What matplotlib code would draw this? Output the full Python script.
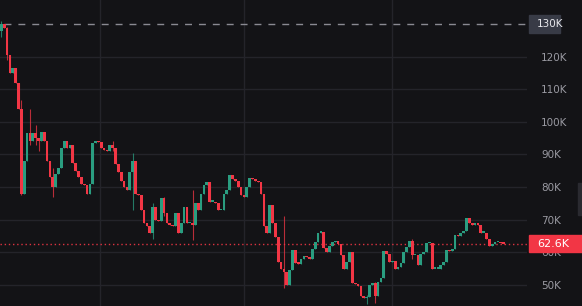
import numpy as np
import matplotlib.pyplot as plt
from matplotlib.patches import Rectangle
from matplotlib.transforms import blended_transform_factory

# candle closes (in K) left to right
closes = [130, 128.8, 120.5, 115, 116.5, 112, 104, 78, 88, 96.5,
          94, 96.5, 95, 94, 97, 94, 88, 83, 80, 84,
          86, 92, 94, 92, 93, 87.5, 85, 83, 81, 80.5,
          78, 81, 93.5, 94, 93.8, 92, 91.5, 91, 93, 92,
          87, 84.7, 82, 80, 79, 84.5, 88, 78, 77.5, 73,
          69, 68, 66, 74, 70, 69.5, 76.5, 72, 69, 68.5,
          68, 72, 66, 69, 74, 69, 69, 68.5, 75, 73,
          78, 80.5, 81.5, 75.5, 75.5, 75, 73, 73, 78, 79,
          83.7, 82.5, 82, 80, 77.5, 77, 80, 82.7, 82.5, 82,
          81.5, 78, 68, 66, 74.5, 69, 64.7, 57, 55, 54,
          50, 54.6, 60.7, 56.7, 56.5, 58, 58.7, 58.5, 58, 61,
          63, 66, 66.2, 61.3, 60, 62, 63, 63.5, 62.5, 59,
          55, 57, 60, 50.6, 50.3, 49.5, 46.5, 46, 46.3, 50,
          50.5, 46.5, 51, 52, 60.5, 59.5, 57, 57.3, 55, 55.5,
          56.8, 60, 61.6, 63.4, 59, 59, 56, 59.6, 60, 62.8,
          62.8, 55, 55, 55, 56, 57, 60.7, 60.3, 61, 65.3,
          65, 66, 66.5, 70.5, 69, 68.5, 68.7, 68.5, 66, 66,
          64, 62, 62.5, 63, 63, 62.8, 62.6]
first_open = 128

# wicks that stick out past the bodies: index -> (high, low)
wicks = {0: (131, 126), 2: (129, 119), 7: (106.7, 77.5), 10: (104, 93),
         12: (99, 93), 13: (95, 91), 18: (86, 77), 39: (94, 91),
         46: (90.4, 73), 53: (75, 64), 57: (77, 71), 67: (79, 63.7),
         99: (71, 49), 128: (47, 44), 131: (51, 44.5), 144: (64, 58)}

last_price = 62.6
high_mark = 130
yticks = [50, 60, 70, 80, 90, 100, 110, 120, 130]

bg = '#131316'
grid_c = '#24242a'
up_c = '#2a9d80'
down_c = '#f23645'

opens = [first_open] + closes[:-1]
highs = [max(o, c) for o, c in zip(opens, closes)]
lows = [min(o, c) for o, c in zip(opens, closes)]
for i, (h, l) in wicks.items():
    highs[i] = max(highs[i], h)
    lows[i] = min(lows[i], l)

n = len(closes)
x = np.arange(n)
up = np.array(closes) >= np.array(opens)
cols = [up_c if u else down_c for u in up]

fig = plt.figure(figsize=(5.82, 3.06), dpi=100, facecolor=bg)
ax = fig.add_axes([0, 0, 527 / 582, 1])
ax.set_facecolor(bg)

step = 505 / n
ax.set_xlim(-0.5, 527 / step - 0.5)
ax.set_ylim(43.5, 137.4)

for v in yticks:
    if v != high_mark:
        ax.axhline(v, color=grid_c, lw=1, zorder=0)
for px in [100, 244, 392]:
    ax.axvline(px / step - 0.5, color=grid_c, lw=1, zorder=0)

ax.vlines(x, lows, highs, colors=cols, lw=0.8, alpha=0.75, zorder=2)
body_b = [min(o, c) for o, c in zip(opens, closes)]
body_h = [max(abs(c - o), 0.4) for o, c in zip(opens, closes)]
ax.bar(x, body_h, bottom=body_b, width=0.95, color=cols, lw=0, zorder=3)

ax.plot([3 / step, 527 / step], [high_mark, high_mark], color='#8a8a92',
        lw=1, dashes=(5, 5), zorder=1)
ax.axhline(last_price, color=down_c, lw=1, ls=(0, (1, 2)), zorder=1, alpha=0.9)

# 130K gets its own badge below, so leave its tick label empty
ax.yaxis.tick_right()
ax.set_yticks(yticks)
ax.set_yticklabels(['' if v == high_mark else f'{v}K' for v in yticks],
                   color='#9a9aa2', fontsize=7.5)
ax.tick_params(axis='y', length=0, pad=10)
ax.set_xticks([])
for s in ax.spines.values():
    s.set_visible(False)

tr = blended_transform_factory(fig.transFigure, ax.transData)
# price badges on the right axis
ax.add_patch(Rectangle((529 / 582, high_mark - 2.8), 31 / 582, 5.6, transform=tr,
                       color='#383b46', clip_on=False, zorder=5))
ax.text(537 / 582, high_mark, f'{high_mark}K', transform=tr, color='#e8e8ec',
        fontsize=7.5, va='center', ha='left', zorder=6, clip_on=False)
ax.add_patch(Rectangle((529 / 582, last_price - 2.6), 53 / 582, 5.2, transform=tr,
                       color=down_c, clip_on=False, zorder=5))
ax.text(537 / 582, last_price, f'{last_price}K', transform=tr, color='white',
        fontsize=8, va='center', ha='left', zorder=6, clip_on=False)
# bit of a panel edge peeking in at the right
fig.patches.append(Rectangle((578 / 582, 91 / 306), 6 / 582, 32 / 306,
                             transform=fig.transFigure, color='#2a2a30'))

fig.savefig('out.png', dpi=100, facecolor=bg)
